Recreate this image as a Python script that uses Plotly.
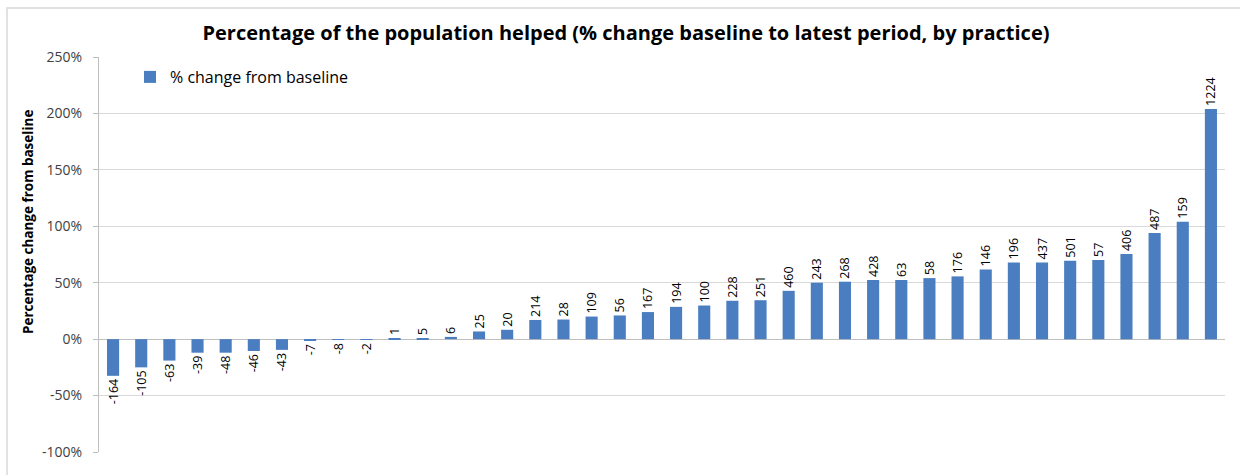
import plotly.graph_objects as go

practices = [f"P{i+1}" for i in range(40)]
pct_change = [-32.5, -25, -19, -12, -12, -10.5, -9.5, -1.2, -0.6, -0.4,
              0.2, 1.0, 2.0, 6.8, 8.3, 17, 17.4, 20, 21, 24,
              28.6, 29.8, 34, 34.5, 42.8, 50, 50.9, 52.4, 52.4, 54.1,
              55.6, 61.8, 68, 68, 69.5, 70.1, 75.4, 94.1, 104.1, 204]
labels = [-164, -105, -63, -39, -48, -46, -43, -7, -8, -2,
          1, 5, 6, 25, 20, 214, 28, 109, 56, 167,
          194, 100, 228, 251, 460, 243, 268, 428, 63, 58,
          176, 146, 196, 437, 501, 57, 406, 487, 159, 1224]
y_ticks = [-1.0, -0.5, 0, 0.5, 1.0, 1.5, 2.0, 2.5]
y_tick_text = ["-100%", "-50%", "0%", "50%", "100%", "150%", "200%", "250%"]

FONT = "Open Sans"
fig = go.Figure()
fig.add_trace(go.Bar(
    x=practices, y=[v / 100 for v in pct_change],
    name="% change from baseline",
    marker=dict(color="#4a7ec0", line=dict(width=0)),
    text=[str(l) for l in labels], textposition="outside", textangle=-90,
    textfont=dict(family=FONT, size=12.5, color="#000000"),
    constraintext="none", cliponaxis=False,
))

L, R, T, B = 99, 15, 57, 23
W, H = 1240, 475
pw, ph = W - L - R, H - T - B

fig.update_layout(
    width=W, height=H,
    margin=dict(l=L, r=R, t=T, b=B),
    paper_bgcolor="white", plot_bgcolor="white",
    bargap=0.57,
    font=dict(family=FONT, size=13, color="#404040"),
    title=dict(text="<b>Percentage of the population helped (% change baseline to latest period, by practice)</b>",
               x=626 / W, xanchor="center", y=1 - 33 / H, yanchor="middle",
               font=dict(family=FONT, size=20, color="#000000")),
    showlegend=True,
    legend=dict(x=(130 - L) / pw, y=1 - (77 - T) / ph, xanchor="left", yanchor="middle",
                bgcolor="rgba(0,0,0,0)", font=dict(family=FONT, size=16, color="#000000"),
                itemwidth=30),
    xaxis=dict(showticklabels=False, showgrid=False, ticks="", showline=False,
               zeroline=False, range=[-0.5, 39.5]),
    yaxis=dict(range=[-1.0, 2.5], tickvals=y_ticks, ticktext=y_tick_text,
               showgrid=True, gridcolor="#d9d9d9", gridwidth=1,
               zeroline=True, zerolinecolor="#bfbfbf", zerolinewidth=1,
               showline=True, linecolor="#bfbfbf", linewidth=1,
               ticks="outside", ticklen=5, tickcolor="#bfbfbf",
               ticklabelstandoff=8,
               tickfont=dict(family=FONT, size=14, color="#404040")),
    annotations=[dict(text="<b>Percentage change from baseline</b>", textangle=-90,
                      xref="paper", yref="paper", x=(28 - L) / pw, y=1 - (222 - T) / ph,
                      xanchor="center", yanchor="middle", showarrow=False,
                      font=dict(family=FONT, size=13.5, color="#000000"))],
    shapes=[dict(type="rect", xref="paper", yref="paper",
                 x0=(7 - L) / pw, x1=(1260 - L) / pw, y0=1 - (500 - T) / ph, y1=1 - (8 - T) / ph,
                 line=dict(color="#d9d9d9", width=1.5), layer="below")],
)

fig.write_html("out.html")
